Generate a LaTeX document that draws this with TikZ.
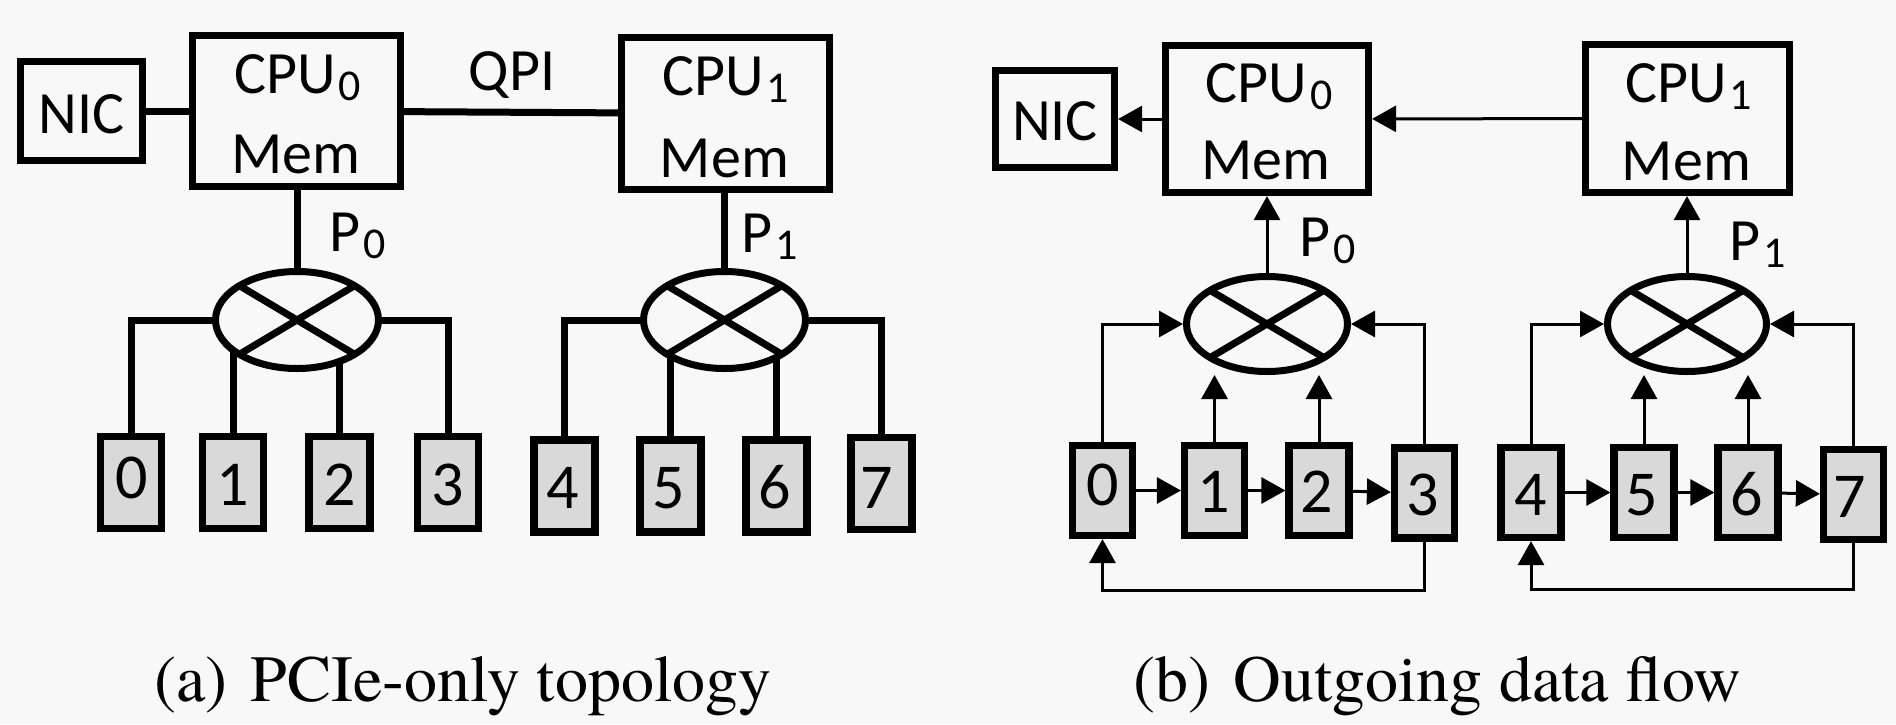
\documentclass[tikz,border=0pt]{standalone}
\usepackage{fontspec}
\newfontfamily\capfont{texgyretermes-regular.otf}
\newfontfamily\calfont{Carlito}
\usetikzlibrary{arrows.meta,shapes.geometric}
\definecolor{bgc}{HTML}{F8F8F8}
\definecolor{boxfill}{HTML}{D9D9D9}
\newcommand{\sbs}[1]{\hspace{1.5pt}\raisebox{-3.5pt}{\fontsize{22}{22}\selectfont #1}}
\pgfdeclarelayer{back}
\pgfdeclarelayer{wires}
\pgfsetlayers{back,wires,main}
\begin{document}
\begin{tikzpicture}[x=0.5pt,y=-0.5pt,
  thickline/.style={line width=3.5pt},
  thinline/.style={line width=1.5pt},
  blk/.style={draw, line width=3.6pt, rectangle, inner sep=0pt, outer sep=1.8pt, fill=bgc},
  dev/.style={blk, fill=boxfill, minimum width=30.5pt, minimum height=46pt},
  devb/.style={blk, fill=boxfill, minimum width=30pt, minimum height=45pt},
  sw/.style={draw, ellipse, line width=3.5pt, inner sep=0pt, outer sep=1.75pt, fill=bgc},
  lab/.style={font=\calfont\fontsize{30}{30}\selectfont, anchor=base, inner sep=0pt},
  dig/.style={font=\calfont\fontsize{32}{32}\selectfont, anchor=base, inner sep=0pt},
  captxt/.style={font=\capfont\fontsize{33}{33}\selectfont, anchor=base, inner sep=0pt},
  arr/.style={thinline, -{Triangle[length=12pt,width=13pt]}},
]
\begin{pgfonlayer}{back}
\fill[bgc] (0,0) rectangle (1896,724);
\end{pgfonlayer}

% ---------------- panel (a) ----------------
\node[blk, minimum width=61pt, minimum height=49.5pt] (nicA) at (81.5,111) {};
\node[blk, minimum width=104pt, minimum height=75.5pt] (cpu0A) at (296.5,111) {};
\node[blk, minimum width=104pt, minimum height=76pt] (cpu1A) at (725.5,113.5) {};
\node[sw, minimum width=81.5pt, minimum height=48.5pt] (swA0) at (297,320) {};
\node[sw, minimum width=81pt, minimum height=48.5pt] (swA1) at (724.5,320) {};
\node[dev] (b0A) at (131,482.5) {};
\node[dev] (b1A) at (233,482.5) {};
\node[dev] (b2A) at (339.5,482.5) {};
\node[dev] (b3A) at (448,482.5) {};
\node[dev] (b4A) at (564.5,486) {};
\node[dev] (b5A) at (670.5,486) {};
\node[dev] (b6A) at (776.5,486) {};
\node[dev] (b7A) at (881.5,483.5) {};

\begin{pgfonlayer}{wires}
\draw[thickline] (nicA) -- (cpu0A);
\draw[thickline] (cpu0A) -- (cpu1A);
\draw[thickline] (swA0.north) -- (swA0.north |- cpu0A.south);
\draw[thickline] (swA1.north) -- (swA1.north |- cpu1A.south);
\draw[thickline] (b0A.north) |- (swA0.center);
\draw[thickline] (b3A.north) |- (swA0.center);
\draw[thickline] (b1A.north) -- (b1A.north |- swA0.center);
\draw[thickline] (b2A.north) -- (b2A.north |- swA0.center);
\draw[thickline] (b4A.north) |- (swA1.center);
\draw[thickline] (b7A.north) |- (swA1.center);
\draw[thickline] (b5A.north) -- (b5A.north |- swA1.center);
\draw[thickline] (b6A.north) -- (b6A.north |- swA1.center);
\end{pgfonlayer}

\draw[thickline] (swA0.center) ++(-57.6,-34.3) -- ++(115.2,68.6);
\draw[thickline] (swA0.center) ++(-57.6,34.3) -- ++(115.2,-68.6);
\draw[thickline] (swA1.center) ++(-57.3,-34.3) -- ++(114.6,68.6);
\draw[thickline] (swA1.center) ++(-57.3,34.3) -- ++(114.6,-68.6);

\node[lab] (nicAt) at (81.5,133) {NIC};
\node[lab] (cpu0At) at (297.5,93) {CPU\sbs{0}};
\node[lab] (mem0At) at (296,173) {Mem};
\node[lab] (qpiAt) at (512,90) {QPI};
\node[lab] (cpu1At) at (725.5,95) {CPU\sbs{1}};
\node[lab] (mem1At) at (724.5,177) {Mem};
\node[lab] (p0At) at (357.5,251) {P\sbs{0}};
\node[lab] (p1At) at (770,252) {P\sbs{1}};
\node[dig] (d0A) at (132,498) {0};
\node[dig] (d1A) at (233,505) {1};
\node[dig] (d2A) at (339.5,505) {2};
\node[dig] (d3A) at (448,505) {3};
\node[dig] (d4A) at (563,508) {4};
\node[dig] (d5A) at (669,508) {5};
\node[dig] (d6A) at (775,508) {6};
\node[dig] (d7A) at (877,508) {7};

% ---------------- panel (b) ----------------
\node[blk, minimum width=59.5pt, minimum height=48.5pt] (nicB) at (1055,119) {};
\node[blk, minimum width=101.5pt, minimum height=73.5pt] (cpu0B) at (1267,119) {};
\node[blk, minimum width=102pt, minimum height=74pt] (cpu1B) at (1687.5,118.5) {};
\node[sw, minimum width=80.5pt, minimum height=47.5pt] (swB0) at (1267,324) {};
\node[sw, minimum width=79.5pt, minimum height=47.5pt] (swB1) at (1687,324) {};
\node[devb] (b0B) at (1102.5,490.5) {};
\node[devb] (b1B) at (1214.5,490.5) {};
\node[devb] (b2B) at (1319,490.5) {};
\node[devb] (b3B) at (1424.5,493) {};
\node[devb] (b4B) at (1531,492.5) {};
\node[devb] (b5B) at (1644,492.5) {};
\node[devb] (b6B) at (1748,492.5) {};
\node[devb] (b7B) at (1853.5,494.5) {};
\coordinate (fbB0) at (1102.5,590);
\coordinate (fbB1) at (1531,589);

\draw[thickline] (swB0.center) ++(-56.9,-33.6) -- ++(113.8,67.2);
\draw[thickline] (swB0.center) ++(-56.9,33.6) -- ++(113.8,-67.2);
\draw[thickline] (swB1.center) ++(-56.2,-33.6) -- ++(112.4,67.2);
\draw[thickline] (swB1.center) ++(-56.2,33.6) -- ++(112.4,-67.2);

\draw[arr] (cpu0B) -- (nicB);
\draw[arr] (cpu1B) -- (cpu0B);
\draw[arr] (swB0.north) -- (swB0.north |- cpu0B.south);
\draw[arr] (swB1.north) -- (swB1.north |- cpu1B.south);
\draw[arr] (b0B.north) |- (swB0.west);
\draw[arr] (b3B.north) |- (swB0.east);
\draw[arr] (b1B.north) -- (b1B.north |- swB0.south);
\draw[arr] (b2B.north) -- (b2B.north |- swB0.south);
\draw[arr] (b4B.north) |- (swB1.west);
\draw[arr] (b7B.north) |- (swB1.east);
\draw[arr] (b5B.north) -- (b5B.north |- swB1.south);
\draw[arr] (b6B.north) -- (b6B.north |- swB1.south);
\draw[arr] (b0B) -- (b1B);
\draw[arr] (b1B) -- (b2B);
\draw[arr] (b2B) -- (b3B);
\draw[arr] (b4B) -- (b5B);
\draw[arr] (b5B) -- (b6B);
\draw[arr] (b6B) -- (b7B);
\draw[arr] (b3B.south) |- (fbB0) -- (b0B.south);
\draw[arr] (b7B.south) |- (fbB1) -- (b4B.south);

\node[lab] (nicBt) at (1055,140) {NIC};
\node[lab] (cpu0Bt) at (1269,102) {CPU\sbs{0}};
\node[lab] (mem0Bt) at (1266,179) {Mem};
\node[lab] (cpu1Bt) at (1688.5,102) {CPU\sbs{1}};
\node[lab] (mem1Bt) at (1686.5,180) {Mem};
\node[lab] (p0Bt) at (1327.5,256) {P\sbs{0}};
\node[lab] (p1Bt) at (1757.5,260) {P\sbs{1}};
\node[dig] (d0B) at (1103,505) {0};
\node[dig] (d1B) at (1214,512) {1};
\node[dig] (d2B) at (1317,512) {2};
\node[dig] (d3B) at (1423,515) {3};
\node[dig] (d4B) at (1531,515) {4};
\node[dig] (d5B) at (1642,515) {5};
\node[dig] (d6B) at (1747,515) {6};
\node[dig] (d7B) at (1850,517) {7};

% ---------------- captions ----------------
\node[captxt] (capA) at (463,701) {(a)\hspace{0.35em}PCIe-only topology};
\node[captxt] (capB) at (1437,701) {(b)\hspace{0.35em}Outgoing data flow};
\end{tikzpicture}
\end{document}
